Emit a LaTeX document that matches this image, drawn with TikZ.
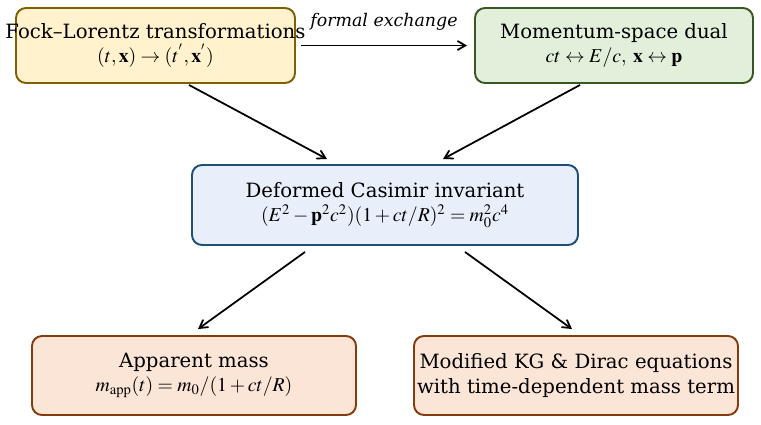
\documentclass[tikz,border=0pt]{standalone}
\usepackage{mathptmx}
\usepackage[no-math]{fontspec}
\setmainfont{DejaVu Serif}
\usetikzlibrary{
  calc,
  positioning,
  arrows}

\definecolor{fockfill}{HTML}{FFF2CC}
\definecolor{fockline}{HTML}{7F6000}
\definecolor{momfill}{HTML}{E2EFDA}
\definecolor{momline}{HTML}{385723}
\definecolor{casfill}{HTML}{E8EFFB}
\definecolor{casline}{HTML}{1F4E79}
\definecolor{resfill}{HTML}{FBE5D6}
\definecolor{resline}{HTML}{843C0C}

\begin{document}
\begin{tikzpicture}[
  >=angle 60,
  line width=0.75pt,
  box/.style={draw,rounded corners=2mm,line width=1.1pt,align=center,
    inner sep=0pt,font=\fontsize{11.2}{14}\selectfont},
  link/.style={->,line width=1pt}
]%
  \useasboundingbox (0,0) rectangle (15.22,-8.48);

  \node (fock) [box,fill=fockfill,draw=fockline,minimum width=5.58cm,minimum height=1.5cm]
    at (3.11,-0.91)
    {\makebox[0pt]{Fock--Lorentz transformations}\\ $(t,\mathbf{x})\rightarrow(t^{'},\mathbf{x}^{'})$};

  \node (mom) [box,fill=momfill,draw=momline,minimum width=5.56cm,minimum height=1.5cm]
    at (12.28,-0.91)
    {Momentum-space dual\\ $ct\leftrightarrow E/c,\;\mathbf{x}\leftrightarrow\mathbf{p}$};

  \node (cas) [box,fill=casfill,draw=casline,minimum width=7.72cm,minimum height=1.6cm]
    at (7.70,-4.10)
    {Deformed Casimir invariant\\ $(E^2-\mathbf{p}^2c^2)(1+ct/R)^2=m_0^2c^4$};

  \node (app) [box,fill=resfill,draw=resline,minimum width=6.48cm,minimum height=1.58cm]
    at (3.88,-7.51)
    {Apparent mass\\ $m_{\mathrm{app}}(t)=m_0/(1+ct/R)$};

  \node (mod) [box,fill=resfill,draw=resline,minimum width=6.48cm,minimum height=1.58cm]
    at (11.52,-7.51)
    {Modified KG \& Dirac equations\\ with time-dependent mass term};

  \draw[link] ($(fock.east)+(0.10,0)$) -- ($(mom.west)+(-0.14,0)$)
    node[midway,above=0.17cm,font=\fontsize{9.9}{12}\selectfont\itshape] (fx) {formal exchange};

  \draw[link] ($(fock.south)+(0.67,-0.02)$) -- ($(cas.north)+(-1.16,0.10)$);
  \draw[link] ($(mom.south)+(-0.68,-0.02)$) -- ($(cas.north)+(1.16,0.10)$);
  \draw[link] ($(cas.south)+(-1.60,-0.12)$) -- ($(app.north)+(0.08,0.12)$);
  \draw[link] ($(cas.south)+(1.60,-0.12)$) -- ($(mod.north)+(-0.08,0.12)$);

\end{tikzpicture}
\end{document}
